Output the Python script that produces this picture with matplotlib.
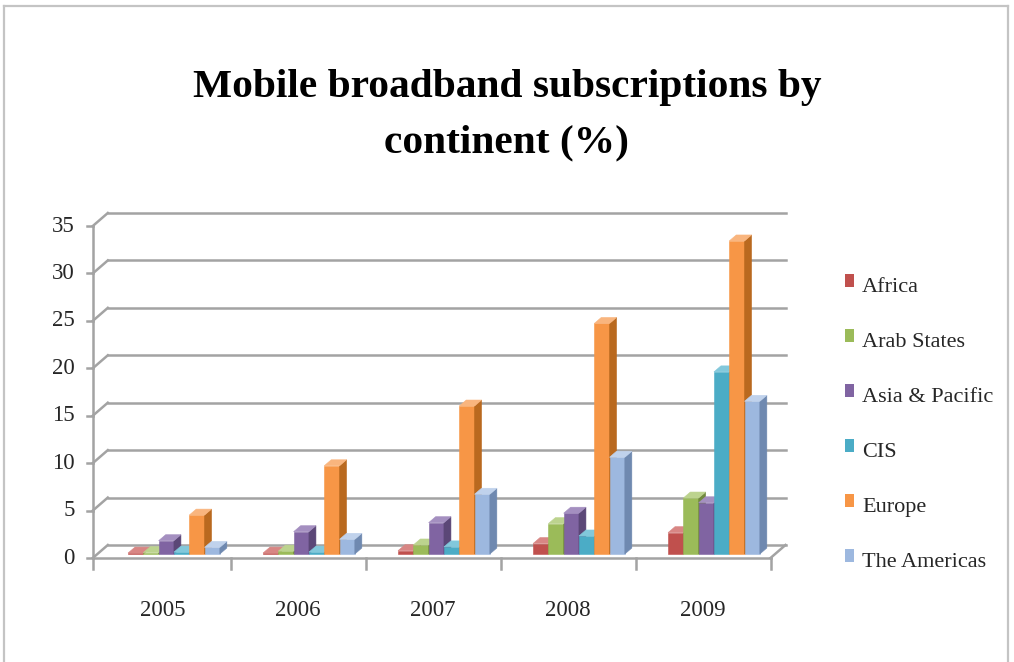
import numpy as np
import matplotlib
matplotlib.use("Agg")
import matplotlib.pyplot as plt
from matplotlib.patches import Polygon, Rectangle
from matplotlib.lines import Line2D

# ── data ──────────────────────────────────────────────────────────────
years = ["2005", "2006", "2007", "2008", "2009"]
regions = ["Africa", "Arab States", "Asia & Pacific", "CIS", "Europe", "The Americas"]

africa       = [0.1, 0.1, 0.35, 1.1, 2.25]
arab_states  = [0.15, 0.3, 0.95, 3.2, 5.9]
asia_pacific = [1.4, 2.35, 3.3, 4.3, 5.4]
cis          = [0.2, 0.2, 0.75, 1.9, 19.2]
europe       = [4.1, 9.3, 15.6, 24.3, 33.0]
americas     = [0.7, 1.55, 6.3, 10.2, 16.1]

series = [africa, arab_states, asia_pacific, cis, europe, americas]
y_ticks = [0, 5, 10, 15, 20, 25, 30, 35]

# front / top / side shading of each series
face_colors = ["#C0504D", "#9BBB59", "#8064A2", "#4BACC6", "#F79646", "#9DB8DF"]
top_colors  = ["#D88684", "#BCD38E", "#A48FC0", "#82C8DB", "#F9B57E", "#C0D2EC"]
side_colors = ["#8E3936", "#71893F", "#5B4777", "#327F93", "#B9691F", "#6F89B0"]

# ── geometry (pixels → data units) ────────────────────────────────────
W, H = 1014, 662
XPX = 135.0            # pixels per category
YPX = 332.0 / 35.0     # pixels per percentage point
ORIGIN_X, ORIGIN_Y = 163, 558

DX, DY = 15 / XPX, 13 / YPX          # wall depth
X0, X1 = -0.52, 4.5                  # floor front edge
BASE = 4 / YPX                       # bars stand a little behind the front edge
BAR_W = 15.3 / XPX
BAR_SHIFT = 0.081
BAR_DX, BAR_DY = 7 / XPX, 6 / YPX    # bar depth

GRID = "#A3A3A3"
TEXT = "#262626"


def fx(px):
    return px / W


def fy(py):
    return 1 - py / H


plt.rcParams["font.family"] = ["Liberation Serif", "DejaVu Serif"]

fig = plt.figure(figsize=(W / 100, H / 100), dpi=100)
fig.patch.set_facecolor("white")
ax = fig.add_axes([0, 0, 1, 1])
ax.set_xlim(-ORIGIN_X / XPX, (W - ORIGIN_X) / XPX)
ax.set_ylim((ORIGIN_Y - H) / YPX, ORIGIN_Y / YPX)
ax.axis("off")

# outer chart frame (no bottom edge)
for xs, ys in [([4, 4], [6, H]), ([4, 1008], [6, 6]), ([1008, 1008], [6, H])]:
    fig.add_artist(Line2D([fx(x) for x in xs], [fy(y) for y in ys],
                          color="#C4C4C4", lw=1.6))

# ── walls and floor ───────────────────────────────────────────────────
for v in y_ticks:
    ax.plot([X0 + DX, X1 + DX], [v + DY, v + DY], color=GRID, lw=1.8, zorder=1)
    ax.plot([X0, X0 + DX], [v, v + DY], color=GRID, lw=1.8, zorder=1)
    ax.plot([X0 - 6 / XPX, X0], [v, v], color=GRID, lw=1.8, zorder=1)
    ax.text(X0 - 18 / XPX, v, str(v), ha="right", va="center",
            fontsize=16.5, color=TEXT)

ax.plot([X0, X0], [0, y_ticks[-1]], color=GRID, lw=1.8, zorder=1)
ax.plot([X0, X1], [0, 0], color=GRID, lw=1.8, zorder=1)
ax.plot([X1, X1 + DX], [0, DY], color=GRID, lw=1.8, zorder=1)

# category ticks below the floor
cat_x = np.arange(len(years))
for xt in [X0] + list(cat_x + 0.5):
    ax.plot([xt, xt], [0, -11 / YPX], color=GRID, lw=1.8, zorder=1)
for xc, label in zip(cat_x, years):
    ax.text(xc, (ORIGIN_Y - 610) / YPX, label, ha="center", va="center",
            fontsize=16.5, color=TEXT)

# ── bars: front faces from ax.bar, top/side faces as polygons ─────────
for k, vals in enumerate(series):
    vals = np.asarray(vals, dtype=float)
    left = cat_x + BAR_SHIFT + (k - 3) * BAR_W
    z = 10 + 3 * k
    ax.bar(left, vals, width=BAR_W, bottom=BASE, align="edge",
           color=face_colors[k], edgecolor=face_colors[k], lw=0.4, zorder=z)
    for l, v in zip(left, vals):
        r = l + BAR_W
        t = BASE + v
        side = [(r, BASE), (r + BAR_DX, BASE + BAR_DY),
                (r + BAR_DX, t + BAR_DY), (r, t)]
        top = [(l, t), (r, t), (r + BAR_DX, t + BAR_DY), (l + BAR_DX, t + BAR_DY)]
        ax.add_patch(Polygon(side, closed=True, facecolor=side_colors[k],
                             edgecolor=side_colors[k], lw=0.4, zorder=z + 1))
        ax.add_patch(Polygon(top, closed=True, facecolor=top_colors[k],
                             edgecolor=top_colors[k], lw=0.4, zorder=z + 2))

# ── legend ────────────────────────────────────────────────────────────
for k, name in enumerate(regions):
    base_y = 292 + 55 * k
    fig.add_artist(Rectangle((fx(845), fy(base_y - 5)), 9 / W, 13 / H,
                             transform=fig.transFigure,
                             facecolor=face_colors[k], edgecolor="none"))
    fig.text(fx(862), fy(base_y), name, ha="left", va="baseline",
             fontsize=16, color=TEXT)

# ── title, sized to the width of its first line ───────────────────────
t1 = fig.text(0.5, fy(97), "Mobile broadband subscriptions by",
              ha="center", va="baseline", fontsize=30, fontweight="bold")
t2 = fig.text(0.5, fy(152), "continent (%)",
              ha="center", va="baseline", fontsize=30, fontweight="bold")
fig.canvas.draw()
size = 30 * 628 / t1.get_window_extent().width
t1.set_fontsize(size)
t2.set_fontsize(size)

fig.savefig("out.png", dpi=100, facecolor="white")
plt.close(fig)
